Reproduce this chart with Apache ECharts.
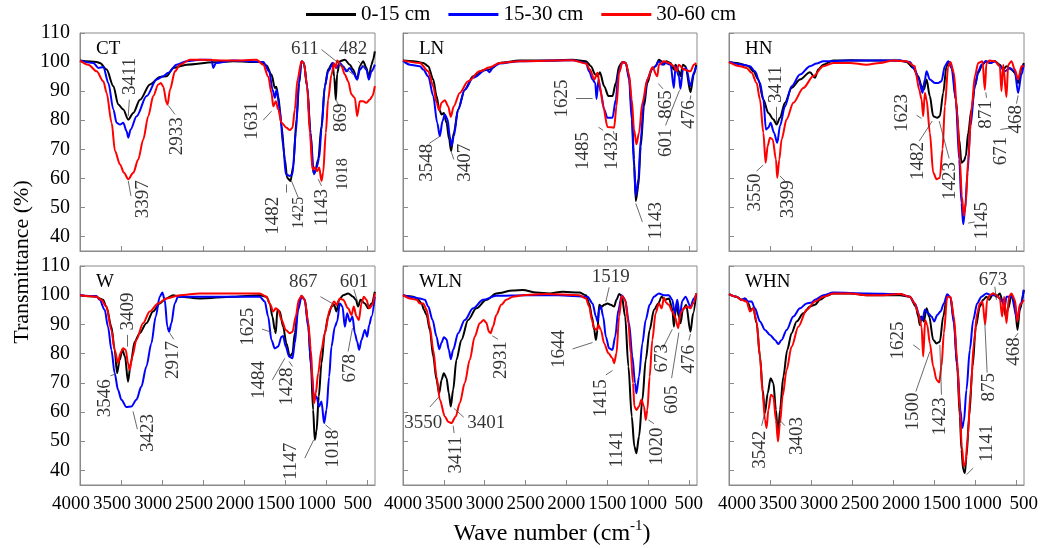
<!DOCTYPE html>
<html>
<head>
<meta charset="utf-8">
<script src="https://cdn.jsdelivr.net/npm/echarts@6/dist/echarts.min.js"></script>
<style>
  html, body { margin: 0; padding: 0; background: #fff; }
  #chart { width: 1056px; height: 548px; }
</style>
</head>
<body>
<div id="chart"></div>
<script>
// 系列名、颜色、面板名
var depthNames = ["0-15 cm", "15-30 cm", "30-60 cm"];
var depthColors = ["#000000", "#0000ff", "#ff0000"];
var panelNames = ["CT", "LN", "HN", "W", "WLN", "WHN"];
var xTickValues = [4000, 3500, 3000, 2500, 2000, 1500, 1000, 500];
var yTickValues = [40, 50, 60, 70, 80, 90, 100, 110];

// 光谱数据 [波数, 透过率]
var ctBlack = [[4000,100.5],[3797,100],[3756,99.7],[3675,97.4],[3593,91.7],[3533,85.4],[3472,83.7],[3411,80.2],[3350,82.5],[3268,87],[3146,92.3],[3024,94.9],[2943,95.1],[2862,98],[2699,99.1],[2374,99.9],[2130,100.3],[1805,100],[1724,98.8],[1663,95.7],[1622,91.1],[1605,91.5],[1581,88.3],[1541,78],[1500,66.5],[1472,60.2],[1431,59.1],[1398,64.2],[1358,80.3],[1325,92.8],[1297,100.3],[1268,99.7],[1228,91.7],[1187,75.7],[1154,62],[1134,62],[1093,66.5],[1053,78],[1012,91.7],[972,97.4],[919,99.7],[898,95],[878,87],[862,96],[829,100.3],[768,100.8],[707,99.1],[667,97.4],[618,94],[585,98.6],[545,100.3],[504,98],[476,94.6],[443,99.1],[423,100.8],[402,103.7]];
var ctBlue = [[4000,100.5],[3837,99.7],[3776,98],[3715,98.3],[3654,92.8],[3593,83.7],[3553,79.1],[3512,78.5],[3472,79.1],[3431,76.2],[3411,74],[3382,76.8],[3309,81.4],[3187,88.3],[3065,94],[2984,95.1],[2923,96.3],[2821,99.1],[2699,100.3],[2537,100.8],[2394,100.8],[2374,98],[2341,99.7],[2130,100.5],[1764,100],[1691,96.8],[1650,90.5],[1622,87.7],[1602,90.5],[1561,83.7],[1520,71],[1488,61.4],[1439,60.8],[1407,61.4],[1366,75.7],[1329,92.8],[1297,100.3],[1268,99.7],[1228,91.7],[1187,75.7],[1146,61.4],[1114,63.7],[1081,67],[1053,76.8],[1012,91.7],[972,96.8],[911,99.7],[870,98],[829,99.7],[789,98.6],[748,96.8],[707,98],[667,96.3],[618,94],[585,97.4],[545,98.6],[504,97.4],[476,94],[443,96.8],[402,99.1]];
var ctRed = [[4000,100.5],[3898,99.1],[3797,96.8],[3715,93.4],[3675,89.4],[3614,79.1],[3573,69.4],[3512,64.8],[3463,61.9],[3411,59.7],[3350,61.9],[3289,66.5],[3228,73.4],[3167,81.4],[3106,88.3],[3045,92.3],[3012,92.8],[2984,91.5],[2943,86],[2931,85.4],[2902,90.5],[2841,96.8],[2780,99.1],[2659,100.8],[2537,100.8],[2130,100.5],[1846,100.8],[1764,99.1],[1703,95],[1663,89.4],[1642,84.8],[1610,86.5],[1581,83.7],[1541,79.1],[1480,77.4],[1439,76.6],[1407,77.4],[1378,83.7],[1346,93.9],[1297,100.3],[1268,99.7],[1228,91.7],[1195,75.7],[1163,63.1],[1134,63.7],[1106,62.5],[1081,63.7],[1053,59.1],[1033,61.9],[1000,75.7],[972,87.1],[931,95.7],[900,99.5],[880,98],[862,100.5],[809,98.6],[768,95.7],[728,93.4],[687,88.8],[646,87.7],[618,81.4],[585,86.5],[545,86.5],[504,86],[463,87.1],[431,88.3],[402,91.7]];

var lnBlack = [[4000,100.5],[3874,100.3],[3752,99.7],[3691,98.6],[3630,94],[3589,88.3],[3557,83.7],[3528,82],[3500,82.5],[3467,79.1],[3435,73.4],[3411,69.4],[3378,75.7],[3325,83.7],[3244,90.5],[3142,95.1],[3020,97.2],[2939,97.4],[2817,99.7],[2573,100.5],[2250,100.5],[1923,100.8],[1760,100.3],[1699,98.6],[1646,95.7],[1618,95.1],[1589,96.5],[1537,91.7],[1484,88.3],[1435,88.3],[1394,92.8],[1354,98.6],[1313,100],[1272,99.7],[1232,95.1],[1199,83.7],[1171,66.5],[1150,52.2],[1118,57.4],[1089,71],[1049,84.8],[1008,92.8],[955,97.4],[907,98.6],[866,100.8],[833,100.3],[805,99.1],[777,100.3],[724,99.7],[683,97.4],[663,99.1],[622,96.8],[602,95.1],[573,99.1],[541,98.6],[480,89.6],[439,95.7],[410,99.1]];
var lnBlue = [[4000,100.5],[3915,99.1],[3793,98.6],[3752,97.4],[3691,95.1],[3630,88.3],[3581,79.1],[3549,74.5],[3516,79.7],[3488,82],[3455,80.3],[3427,74.5],[3407,71.1],[3378,74.5],[3325,83.7],[3244,90.5],[3142,94.6],[2980,97.4],[2939,96.5],[2898,98.3],[2817,99.5],[2573,100.3],[1923,100.6],[1760,99.7],[1720,96.8],[1679,94],[1646,92.8],[1630,87.3],[1606,94],[1577,89.4],[1537,83.7],[1496,80.8],[1435,80.8],[1394,87.1],[1362,96.3],[1313,100],[1272,99.7],[1232,94],[1199,80.3],[1171,64.2],[1150,54],[1118,59.7],[1089,73.4],[1049,87.1],[1008,94],[955,97.4],[907,98.6],[866,100.3],[825,99.1],[785,99.7],[724,99.1],[683,91.1],[663,98.6],[622,95.1],[602,90.8],[573,97.4],[533,98],[480,91.7],[439,96.3],[410,98.6]];
var lnRed = [[4000,100.5],[3793,99.7],[3691,96.8],[3630,91.7],[3589,86],[3557,83.4],[3528,86],[3488,86.9],[3447,84.8],[3415,81.2],[3378,84.8],[3305,89.4],[3203,93.4],[3061,96.8],[2939,98.2],[2817,99.7],[2573,100.3],[1923,100.6],[1760,99.5],[1711,97.4],[1658,94],[1618,96.3],[1589,91.7],[1549,84.8],[1496,77.7],[1415,77.4],[1386,84.8],[1354,96.3],[1313,100],[1272,99.7],[1232,95.7],[1199,87.1],[1171,76.8],[1142,71.7],[1110,75.7],[1069,86],[1008,94],[947,98.2],[886,95.1],[866,99.1],[805,100.3],[744,99.7],[683,98.6],[650,96.8],[622,99.1],[561,97.4],[480,96.8],[439,99.1],[410,99.7]];

var hnBlack = [[4000,100],[3906,99.7],[3825,99.1],[3764,98.6],[3703,96.8],[3642,94],[3581,87.1],[3520,82.5],[3459,80.3],[3419,78.5],[3378,80.8],[3317,86],[3236,91.1],[3134,94],[3012,96.5],[2951,94.6],[2911,97.4],[2850,99.1],[2728,100.5],[2524,100.6],[2118,100.5],[1915,100.5],[1833,100],[1752,98],[1691,95.1],[1650,91.7],[1622,90.5],[1589,94],[1549,88.3],[1508,81.4],[1459,80.8],[1427,81.4],[1386,89.4],[1346,98.6],[1313,100],[1272,97.4],[1232,87.1],[1191,73.4],[1163,65.4],[1134,66],[1110,67.7],[1081,75.7],[1041,83.7],[1000,91.7],[959,96.3],[907,99.1],[866,100.3],[817,99.7],[756,100.3],[695,99.1],[654,97.4],[614,98.6],[553,97.4],[512,96.3],[472,92.8],[431,97.8],[402,99.7]];
var hnBlue = [[4000,100],[3825,99.1],[3744,98.6],[3683,96.8],[3622,92.8],[3581,87.1],[3549,76.8],[3520,77.4],[3492,79.1],[3451,75.7],[3411,72.2],[3378,78],[3317,84.8],[3236,91.7],[3134,95.7],[3012,98.6],[2931,99.5],[2850,100.3],[2524,100.5],[1915,100.5],[1793,100],[1732,97.4],[1691,94.6],[1638,89.4],[1610,94],[1589,96.8],[1549,94],[1488,92.8],[1447,92.8],[1407,93.4],[1366,98.6],[1325,100.3],[1285,98],[1232,87.1],[1191,66.5],[1163,51.6],[1142,44.2],[1122,48.2],[1089,62],[1053,78],[1000,91.7],[959,96.8],[919,99.1],[866,100.3],[797,99.7],[756,100.3],[695,98.6],[634,96.8],[573,98],[512,96.8],[472,89.4],[431,95.7],[402,99.1]];
var hnRed = [[4000,100],[3866,98.6],[3785,98],[3724,96.3],[3663,92.8],[3622,87.1],[3581,75.7],[3553,65.4],[3528,71.1],[3500,74],[3467,73.4],[3427,66.5],[3411,60.2],[3386,66.5],[3358,73.4],[3297,80.3],[3215,86],[3093,91.1],[2972,95.1],[2850,98.6],[2728,99.7],[2524,99.7],[2321,99.1],[2159,99.7],[1996,100.5],[1833,100.3],[1732,98.6],[1720,96],[1679,90.5],[1650,87.1],[1630,81.4],[1610,89.4],[1589,87.1],[1549,75.7],[1508,62],[1467,59.7],[1427,60.2],[1394,70],[1366,84.8],[1325,98.6],[1297,100],[1256,96.3],[1215,82.5],[1183,66.5],[1159,54],[1134,47.1],[1110,51.6],[1081,66.5],[1041,83.7],[1000,95.1],[959,99.7],[907,100.3],[878,90.5],[858,99.7],[817,100.5],[756,100.3],[695,98.6],[675,90],[654,99.1],[614,88],[593,99.1],[553,100.3],[512,97.4],[472,94],[431,98.6],[402,98.6]];

var wBlack = [[4000,100],[3801,99.5],[3760,98.9],[3719,98.4],[3678,96.1],[3617,89.2],[3577,81.3],[3548,73.3],[3516,77.8],[3483,81.3],[3451,79],[3414,70.4],[3381,76.7],[3333,84.1],[3271,87],[3190,90.4],[3109,94.4],[3027,97.2],[2946,98.9],[2864,100],[2783,99.5],[2539,98.9],[2130,99.5],[1806,100],[1725,99.5],[1684,97.2],[1652,92.7],[1623,88.1],[1611,87],[1591,95],[1562,94.4],[1521,89.2],[1481,83.5],[1440,79],[1407,80.1],[1379,87],[1338,96.1],[1297,99.8],[1257,98.4],[1216,90.4],[1183,76.7],[1155,60.7],[1135,50.5],[1114,53.3],[1086,65.3],[1053,76.7],[1013,87],[972,92.7],[931,96.1],[899,96.7],[870,94.4],[838,98.4],[789,100],[728,100.6],[667,99.5],[634,98.4],[606,96.1],[577,98.4],[524,97.2],[483,95.5],[442,97.2],[402,101.2]];
var wBlue = [[4000,100],[3801,99.7],[3760,98.4],[3699,95],[3658,89.2],[3617,81.3],[3577,73.3],[3536,67.6],[3495,64.2],[3434,61.7],[3373,61.9],[3312,64.2],[3251,68.7],[3190,75.6],[3129,83.5],[3076,92.7],[3027,99.5],[2995,100.9],[2966,98.4],[2934,89.2],[2913,87.5],[2885,90.4],[2844,97.2],[2803,99.5],[2700,99.5],[2130,99.5],[1806,99.5],[1745,97.8],[1704,92.7],[1664,84.7],[1623,81.8],[1582,82.4],[1541,85.8],[1521,86],[1489,82.4],[1448,79],[1407,78.4],[1379,83.5],[1338,95],[1297,99.5],[1257,98.4],[1216,89.2],[1175,74.4],[1143,64.2],[1114,65.3],[1082,61.9],[1053,63.6],[1021,56.2],[992,60.7],[960,72.1],[931,82.4],[890,89.2],[862,91],[829,97.2],[797,96.1],[768,89.2],[740,93.8],[707,91],[675,92.7],[646,87],[618,84.1],[593,81.3],[565,84.7],[524,88.1],[496,85.8],[471,89.8],[442,92.7],[402,99.5]];
var wRed = [[4000,100],[3801,99.5],[3740,98.4],[3678,96.1],[3617,88.1],[3577,81.3],[3536,76.7],[3508,80.1],[3475,81.8],[3442,81.3],[3414,76.7],[3394,74.4],[3361,79],[3312,84.7],[3231,90.4],[3149,94.4],[3048,97.2],[2946,98.9],[2783,100],[2539,100.6],[2130,100.6],[1806,100.6],[1725,99.5],[1676,96.7],[1643,94.4],[1611,95.5],[1582,95],[1541,91.6],[1489,88.1],[1440,87],[1407,87.5],[1367,92.7],[1330,98.4],[1297,99.8],[1257,98.4],[1216,91],[1183,81.3],[1155,67.6],[1143,63],[1122,66.5],[1094,73.3],[1053,81.3],[1013,87],[952,95],[899,97.8],[870,96.7],[829,98.9],[789,98.4],[728,95.5],[687,93.2],[659,96.1],[626,92.7],[597,91.5],[565,97.2],[536,99.5],[504,98.4],[471,95.5],[431,96.7],[402,100.6]];

var wlnBlack = [[4000,100],[3874,99.5],[3813,98.4],[3772,97.2],[3744,95],[3711,93.2],[3671,88.1],[3630,79],[3589,71],[3557,66.4],[3528,71],[3500,73.3],[3467,71.6],[3439,66.4],[3415,61.9],[3386,67.6],[3346,77.8],[3285,84.7],[3203,91.5],[3102,95.5],[2980,98.4],[2858,100.6],[2654,101.6],[2533,101.8],[2370,100.9],[2207,100.6],[2045,101.2],[1841,100.9],[1760,100],[1720,97.2],[1687,92.7],[1659,88.1],[1638,84.7],[1618,88.1],[1598,96.7],[1565,96.1],[1537,96.7],[1496,97.2],[1455,96.7],[1415,96.1],[1386,98.4],[1354,100.4],[1321,99.8],[1280,92.7],[1240,75.6],[1199,58.5],[1167,48.2],[1142,45.9],[1110,51.6],[1069,64.2],[1028,77.8],[980,88.1],[927,95],[874,97.2],[833,99.5],[793,98.4],[744,98.9],[703,95.5],[683,89.2],[654,96.7],[622,92.7],[602,90.4],[573,95],[533,96.7],[480,87.5],[447,93.8],[410,100.6]];
var wlnBlue = [[4000,100],[3915,99.5],[3793,98.9],[3732,98.4],[3691,96.1],[3638,91.5],[3589,85.8],[3557,81.5],[3528,83.7],[3500,85.6],[3467,84.9],[3439,81.3],[3415,78.1],[3386,81.3],[3325,87],[3244,91.5],[3142,95.5],[3020,98.4],[2858,99.8],[2500,100],[2100,100],[1740,99.5],[1679,97.2],[1638,92.7],[1618,91],[1598,95],[1577,96.1],[1549,92.7],[1516,85.8],[1476,81.8],[1435,81.3],[1402,85.8],[1362,95],[1321,100],[1280,98.4],[1232,90.4],[1191,79],[1159,69.9],[1142,66.4],[1110,72.1],[1069,83.5],[1028,91.5],[980,96.7],[927,99.5],[866,100.6],[805,100],[744,100],[703,98.4],[671,93.8],[642,98.4],[610,92.7],[581,98],[541,99.5],[480,96.1],[439,98.9],[410,100]];
var wlnRed = [[4000,100],[3915,98.9],[3834,98.4],[3793,97.2],[3752,97.2],[3711,95],[3671,89.2],[3630,81.3],[3589,72.1],[3549,64.2],[3488,58.5],[3447,56.7],[3407,56.2],[3354,58.5],[3305,63],[3244,69.9],[3183,77.8],[3122,85.8],[3061,90.4],[3012,91.5],[2980,90.6],[2947,87.5],[2927,87],[2898,89.2],[2858,93.2],[2797,96.7],[2736,98.4],[2654,99.5],[2533,100],[2247,100.4],[1841,100],[1760,98.9],[1720,96.1],[1687,91.5],[1659,88.7],[1630,88.1],[1606,89.8],[1577,88.1],[1537,83.5],[1484,80.1],[1435,78.4],[1415,76.7],[1386,80.1],[1354,92.7],[1321,99.8],[1280,98.4],[1240,90.4],[1211,80.1],[1183,69.9],[1167,61.9],[1142,60.7],[1110,61.9],[1081,64.2],[1049,61.9],[1028,57.3],[1008,60.7],[980,72.1],[947,84.7],[907,93.8],[866,97.2],[833,95.5],[805,99.1],[777,97.4],[744,96.7],[703,94.4],[671,92.7],[630,88.7],[602,93.8],[561,95.5],[520,96.1],[480,95.5],[447,97.2],[410,100.6]];

var whnBlack = [[4000,100.4],[3910,99.5],[3846,98.4],[3805,98.9],[3764,97.2],[3736,95],[3703,95.5],[3663,90.4],[3622,79],[3589,67.6],[3561,59.6],[3528,66.4],[3492,71.6],[3459,69.9],[3427,60.7],[3402,51.6],[3378,60.7],[3337,72.1],[3289,81.3],[3236,87],[3175,91],[3093,93.8],[3012,96.1],[2951,96.7],[2890,98.4],[2809,99.8],[2728,100.6],[2524,100.6],[2321,100],[2118,100],[1915,100],[1793,99.5],[1720,96.1],[1691,92.7],[1671,89.8],[1650,92.7],[1622,91],[1589,95.5],[1557,92.7],[1508,84.7],[1467,83.5],[1427,84.1],[1386,92.7],[1337,100],[1297,99.2],[1256,91.5],[1215,75.6],[1183,58.5],[1163,47.1],[1142,40.2],[1122,39.1],[1102,44.8],[1069,58.5],[1028,75.6],[988,89.2],[939,96.1],[898,98.4],[858,99.5],[825,98.4],[777,100.6],[736,99.5],[695,100.6],[654,97.2],[622,92.7],[593,95.5],[553,100],[512,97.2],[480,88.1],[451,95],[402,101.8]];
var whnBlue = [[4000,100.4],[3910,99.5],[3846,98.4],[3805,98.9],[3764,97.8],[3724,97.8],[3683,95.5],[3622,91],[3561,88.1],[3500,86.4],[3439,84.7],[3398,83.3],[3358,84.7],[3297,88.1],[3215,92.7],[3134,95.5],[3053,97.2],[2992,97.5],[2951,98.4],[2850,100],[2728,100.9],[2321,100.6],[1915,100.4],[1793,99.5],[1732,97.2],[1671,92.7],[1638,91.5],[1610,95],[1569,93.8],[1528,92.7],[1496,91],[1459,93.2],[1419,94.4],[1378,97.2],[1337,100.3],[1297,99.2],[1256,90.4],[1215,75.6],[1175,60.7],[1154,54.5],[1134,56.7],[1102,67.6],[1061,81.3],[1020,91.5],[972,97.2],[919,99.5],[858,100.6],[797,100],[736,100],[675,98.4],[634,96.1],[614,99.5],[553,99.5],[480,91.5],[443,97.2],[402,101.8]];
var whnRed = [[4000,100.4],[3910,99.5],[3846,98.4],[3785,97.8],[3744,94.4],[3703,95.5],[3663,91],[3622,79],[3589,66.4],[3561,57.3],[3541,54.5],[3520,60.7],[3488,65.9],[3459,65.3],[3427,57.3],[3402,49.9],[3378,56.2],[3346,65.3],[3297,74.4],[3236,82.4],[3154,89.2],[3053,95],[2951,97.8],[2850,99.5],[2728,100.6],[2524,100.6],[2321,100],[2118,100],[1915,100.4],[1793,99.5],[1732,97.2],[1691,93.8],[1650,89.2],[1630,79],[1606,91.5],[1581,89.8],[1549,83.5],[1508,75.6],[1467,71],[1435,70.1],[1407,75.6],[1378,87],[1337,99.5],[1297,99.5],[1256,92.7],[1215,77.8],[1183,60.7],[1159,48.2],[1134,41.4],[1114,42.5],[1089,50.5],[1053,66.4],[1012,83.5],[972,93.8],[939,97.2],[907,97.8],[874,90],[850,98.4],[817,100],[777,100.6],[736,100],[695,98.9],[667,92.7],[642,99.5],[614,90.4],[583,99.5],[553,100.6],[512,98.4],[480,91],[451,96.7],[402,98.4]];

var spectra = [
  [ctBlack, ctBlue, ctRed],
  [lnBlack, lnBlue, lnRed],
  [hnBlack, hnBlue, hnRed],
  [wBlack, wBlue, wRed],
  [wlnBlack, wlnBlue, wlnRed],
  [whnBlack, whnBlue, whnRed]
];

// 峰位标注 [文字, 波数, 透过率, 竖排, 小字]
var peakNotes = [
  [["3411",3390,95.1,1,0],["3397",3228,52.8,1,0],["2933",2821,74.5,1,0],["1631",1898,79.7,1,0],["1482",1642,47.1,1,0],["1425",1325,48.2,1,1],["1143",1041,49.9,1,0],["1018",789,61.4,1,1],["869",809,80.8,1,0],["611",1256,104.6,0,0],["482",667,104.6,0,0]],
  [["3548",3711,65.4,1,0],["3407",3244,65.4,1,0],["1625",2053,87.5,1,0],["1485",1793,69.4,1,0],["1432",1435,69.4,1,0],["1143",907,45.4,1,0],["865",785,85.4,1,0],["601",785,72.2,1,0],["476",492,82,1,0]],
  [["3411",3427,92.3,1,0],["3550",3683,55.1,1,0],["3399",3276,52.8,1,0],["1623",1894,82.5,1,0],["1482",1691,66,1,0],["1423",1305,59.1,1,0],["1145",907,45.4,1,0],["871",858,82,1,0],["671",675,69.4,1,0],["468",492,80.3,1,0]],
  [["3409",3414,94.4,1,0],["3546",3699,64.7,1,0],["3423",3170,52.8,1,0],["2917",2864,77.8,1,0],["1625",1949,89.2,1,0],["1484",1814,71,1,0],["1428",1473,68.7,1,0],["1147",1420,43.1,1,0],["1018",911,47.4,1,0],["867",1277,104.4,0,0],["601",655,104.4,0,0],["678",707,75,1,0]],
  [["3550",3752,56.2,0,0],["3401",2980,56.2,0,0],["3411",3354,45.3,1,0],["2931",2797,77.8,1,0],["1644",2085,81.6,1,0],["1519",1455,106.1,0,0],["1415",1577,64.7,1,0],["1141",1374,47.3,1,0],["1020",886,48.2,1,0],["673",833,78.4,1,0],["605",703,64.2,1,0],["476",500,78.1,1,0]],
  [["3542",3622,47.1,1,0],["3403",3175,51.8,1,0],["1625",1935,84.5,1,0],["1500",1752,60.2,1,0],["1423",1427,58.5,1,0],["1141",850,49.3,1,0],["875",833,68.5,1,0],["468",524,80.7,1,0],["673",777,105.2,0,0]]
];
// 引线 [波数1, 透过率1, 波数2, 透过率2]
var peakLeaders = [
  [[3411,81.4,3398,87.1],[3411,59.1,3378,53.9],[2923,85.1,2841,82],[1764,80,1663,83.1],[1488,57.9,1488,55.1],[1419,59.1,1337,53.4],[1093,59.7,1053,57.4],[878,87.1,837,84.8],[1053,104.3,667,95.7],[606,100.3,504,97.4]],
  [[3557,74.3,3679,72],[3407,69,3378,66.5],[1882,87.5,1679,87.5],[1606,77.6,1549,76.5],[1423,76.2,1415,75.1],[1150,51.4,1069,45],[874,92.6,817,90.8],[614,90.3,785,78.2],[476,88.5,484,87.1]],
  [[3419,84.6,3419,79.1],[3581,64.6,3663,62.5],[3378,60.8,3317,59.1],[1711,81.7,1650,80.6],[1520,79.7,1679,72.8],[1435,79.7,1313,66.8],[1081,44.6,1000,45],[866,89.6,858,87.7],[687,76.8,549,77.4],[472,88.5,492,85.7]],
  [[3422,86.4,3422,82.4],[3630,72.4,3556,73.1],[3353,60.2,3300,54.1],[2905,87,2856,84.9],[1778,88.4,1664,87.3],[1652,71,1501,78.4],[1448,77.3,1407,75.6],[1257,44.2,1147,50.5],[1004,55.6,931,53.9],[1066,99.5,911,97],[658,102,606,97.2],[675,88.7,728,80.7]],
  [[3557,65.3,3671,61.7],[3378,61.3,3256,58.2],[3386,55.3,3374,52.8],[2907,86.1,2837,84.9],[1923,81.6,1679,83.8],[1476,102.7,1516,97.8],[1516,72.7,1435,74.2],[996,57.3,927,56],[703,88.3,825,81.5],[622,87.2,711,71.6],[480,86.7,500,84.5]],
  [[3569,59,3602,55.3],[3378,57.1,3317,55.3],[1752,83,1671,81.3],[1549,80.7,1720,67],[1427,83,1407,65.9],[1102,38.5,1020,40.8],[878,90.4,850,73.5],[472,87,512,85.6],[756,102.9,736,98.4]]
];

var serif = "'Liberation Serif', 'Times New Roman', serif";
var cols = [{ left: 80, width: 295, pad: [0, 18, 0, 0] }, { left: 403, width: 294, pad: 0 }, { left: 729, width: 295, pad: [0, 0, 0, 16] }];
var rows = [{ top: 33, height: 218 }, { top: 266, height: 219 }];

var grids = [], xAxes = [], yAxes = [], series = [], titles = [];
for (var i = 0; i < 6; i++) {
  var r = Math.floor(i / 3), c = i % 3;
  grids.push({
    left: cols[c].left, top: rows[r].top, width: cols[c].width, height: rows[r].height,
    show: true, borderColor: "#8a8a8a", borderWidth: 1, containLabel: false, outerBoundsMode: "none"
  });
  xAxes.push({
    gridIndex: i, type: "value", inverse: true, min: 400, max: 4000,
    axisLine: { show: true, lineStyle: { color: "#8a8a8a" } },
    axisTick: { show: true, inside: true, length: 5, customValues: xTickValues, lineStyle: { color: "#8a8a8a" } },
    axisLabel: {
      show: r === 1, customValues: xTickValues, margin: 10, fontSize: 19, color: "#000", fontFamily: serif,
      padding: cols[c].pad, formatter: function (v) { return String(v); }
    },
    splitLine: { show: false }
  });
  yAxes.push({
    gridIndex: i, type: "value", min: 35, max: 110,
    axisLine: { show: true, lineStyle: { color: "#8a8a8a" } },
    axisTick: { show: true, inside: true, length: 5, customValues: yTickValues, lineStyle: { color: "#8a8a8a" } },
    axisLabel: { show: c === 0, customValues: yTickValues, margin: 10, fontSize: 20, color: "#000", fontFamily: serif },
    splitLine: { show: false }
  });
  titles.push({
    text: panelNames[i], left: cols[c].left + 11, top: rows[r].top + 2,
    textStyle: { fontSize: 19, fontWeight: "normal", fontFamily: serif, color: "#000" }
  });
  for (var k = 0; k < 3; k++) {
    series.push({
      name: depthNames[k], type: "line", xAxisIndex: i, yAxisIndex: i,
      data: spectra[i][k], showSymbol: false, symbol: "none",
      smooth: 0.3, smoothMonotone: "x",
      lineStyle: { width: 2, color: depthColors[k] }, itemStyle: { color: depthColors[k] },
      silent: true, z: 2 + k
    });
  }
  series.push({
    type: "lines", coordinateSystem: "cartesian2d", xAxisIndex: i, yAxisIndex: i, silent: true, z: 6,
    lineStyle: { color: "#444", width: 0.8, opacity: 1 },
    data: peakLeaders[i].map(function (l) { return { coords: [[l[0], l[1]], [l[2], l[3]]] }; })
  });
  series.push({
    type: "scatter", xAxisIndex: i, yAxisIndex: i, silent: true, z: 7,
    symbolSize: 1, itemStyle: { color: "transparent" },
    label: { show: true, position: "inside", formatter: "{b}", color: "#000", fontFamily: serif },
    data: peakNotes[i].map(function (n) {
      return { name: n[0], value: [n[1], n[2]], label: { rotate: n[3] ? 90 : 0, fontSize: n[4] ? 16 : 19 } };
    })
  });
}

var myChart = echarts.init(document.getElementById("chart"), null, { renderer: "canvas" });

// 坐标轴名称（上标用单独文字）
var ctx = document.createElement("canvas").getContext("2d");
function textW(t, size) { ctx.font = size + "px " + serif; return ctx.measureText(t).width; }
var xName1 = "Wave number (cm", xName2 = "-1", xName3 = ")";
var w1 = textW(xName1, 24), w2 = textW(xName2, 15), w3 = textW(xName3, 24);
var x0 = 552 - (w1 + w2 + w3) / 2;

var option = {
  animation: false,
  backgroundColor: "#fff",
  title: titles,
  legend: {
    data: depthNames, left: 306, top: 4, padding: 0,
    itemWidth: 50, itemHeight: 3, itemGap: 18, icon: "rect",
    textStyle: { fontSize: 21, fontFamily: serif, color: "#000" }
  },
  grid: grids,
  xAxis: xAxes,
  yAxis: yAxes,
  series: series,
  graphic: [
    { type: "text", x: 22, y: 262, rotation: Math.PI / 2,
      style: { text: "Transmittance (%)", font: "22px " + serif, fill: "#000", align: "center", verticalAlign: "middle" } },
    { type: "text", x: x0, y: 534,
      style: { text: xName1, font: "24px " + serif, fill: "#000", align: "left", verticalAlign: "middle" } },
    { type: "text", x: x0 + w1, y: 526,
      style: { text: xName2, font: "15px " + serif, fill: "#000", align: "left", verticalAlign: "middle" } },
    { type: "text", x: x0 + w1 + w2, y: 534,
      style: { text: xName3, font: "24px " + serif, fill: "#000", align: "left", verticalAlign: "middle" } }
  ]
};
myChart.setOption(option);
</script>
</body>
</html>
